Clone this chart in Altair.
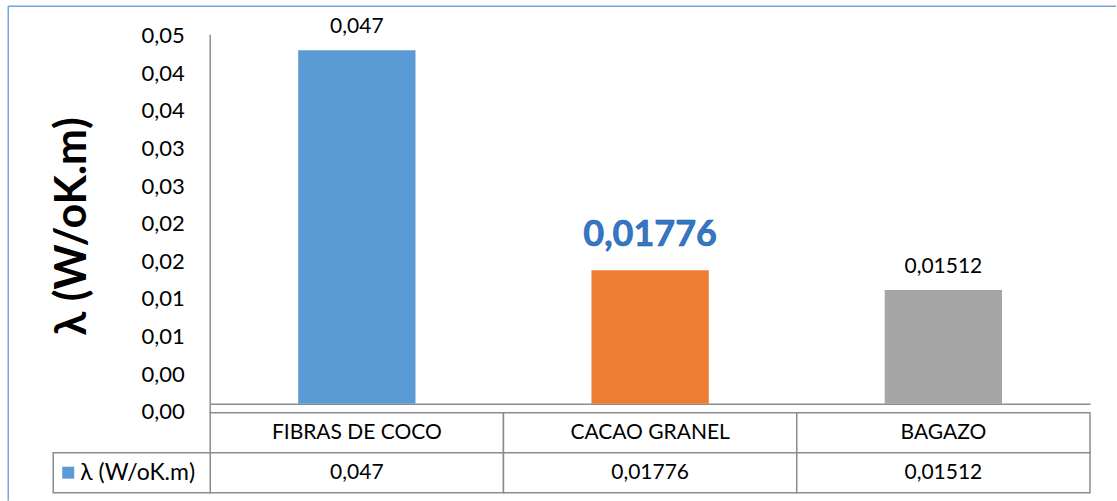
import altair as alt
import pandas as pd

# ---- data ----
categories = ["FIBRAS DE COCO", "CACAO GRANEL", "BAGAZO"]
values = [0.047, 0.01776, 0.01512]
value_labels = ["0,047", "0,01776", "0,01512"]
highlight = [False, True, False]
bar_colors = ["#5b9bd5", "#ed7d31", "#a5a5a5"]
series_name = "λ (W/oK.m)"
y_ticks = [0.0, 0.005, 0.01, 0.015, 0.02, 0.025, 0.03, 0.035, 0.04, 0.045, 0.05]
y_tick_labels = ["0,00", "0,00", "0,01", "0,01", "0,02", "0,02",
                 "0,03", "0,03", "0,04", "0,04", "0,05"]

FONT = "Lato"
GRID = "#8c8c8c"
FRAME = "#74a5dc"

df = pd.DataFrame({"cat": categories, "value": values,
                   "label": value_labels, "hl": highlight})

label_js = "[" + ",".join("'" + s + "'" for s in y_tick_labels) + "]"
label_expr = label_js + "[round(datum.value / 0.005)]"

x_top = alt.X("cat:N", sort=categories,
              scale=alt.Scale(domain=categories, paddingInner=0.6, paddingOuter=0.3),
              axis=alt.Axis(labels=False, ticks=False, title=None, domain=True,
                            domainColor=GRID, domainWidth=1.5, grid=False))
y_top = alt.Y("value:Q",
              scale=alt.Scale(domain=[0, 0.05], nice=False, zero=True),
              axis=alt.Axis(values=y_ticks, labelExpr=label_expr, ticks=False,
                            grid=False, domain=False, labelOffset=8, labelPadding=26,
                            labelFontSize=22, labelFont=FONT, labelColor="#000000",
                            labelOverlap=False,
                            title=series_name, titleFontSize=43, titleFont=FONT,
                            titleFontWeight="bold", titleColor="#000000",
                            titleAngle=-90, titleX=-138, titleY=198,
                            titleAlign="center", titleBaseline="middle"))

base = alt.Chart(df)
bars = base.mark_bar().encode(
    x=x_top, y=y_top,
    color=alt.Color("cat:N", scale=alt.Scale(domain=categories, range=bar_colors),
                    legend=None),
)
labels = base.transform_filter("!datum.hl").mark_text(
    dy=-17, baseline="alphabetic", fontSize=21, font=FONT, color="#000000"
).encode(x=x_top, y=y_top, text="label:N")
big_label = base.transform_filter("datum.hl").mark_text(
    dy=-24, baseline="alphabetic", fontSize=36, font=FONT, fontWeight="bold",
    color="#3477c4", stroke="#1f5ea8", strokeWidth=0.6
).encode(x=x_top, y=y_top, text="label:N")

one = pd.DataFrame({"k": [0]})
y_axis_line = alt.Chart(one).mark_rule(color=GRID, strokeWidth=1.5).encode(
    x=alt.value(0), y=alt.value(7), y2=alt.value(385))
frame_top = alt.Chart(one).mark_rule(color=FRAME, strokeWidth=1.5).encode(
    x=alt.value(-202), x2=alt.value(906), y=alt.value(-21.5))
frame_left = alt.Chart(one).mark_rule(color=FRAME, strokeWidth=1.5).encode(
    x=alt.value(-202), y=alt.value(-21.5), y2=alt.value(473))

top = alt.layer(frame_top, frame_left, bars, labels, big_label, y_axis_line).properties(
    width=880, height=376)

# ---- data table ----
rows = []
for c, lab in zip(categories, value_labels):
    rows.append({"row": "cat", "cat": c, "txt": c})
    rows.append({"row": "val", "cat": c, "txt": lab})
tdf = pd.DataFrame(rows)

x_tab = alt.X("cat:N", sort=categories,
              scale=alt.Scale(domain=categories, paddingInner=0, paddingOuter=0),
              axis=None)
y_tab = alt.Y("row:N", scale=alt.Scale(domain=["cat", "val"], paddingInner=0,
                                       paddingOuter=0), axis=None)

cells = alt.Chart(tdf).mark_rect(fill="white", stroke=GRID, strokeWidth=1.5).encode(
    x=x_tab, y=y_tab)
cell_text = alt.Chart(tdf).mark_text(fontSize=21, font=FONT, color="#000000").encode(
    x=x_tab, y=y_tab, text="txt:N")

ldf = pd.DataFrame({"row": ["val"], "name": [series_name]})
leg_cell = alt.Chart(ldf).mark_rect(fill="white", stroke=GRID, strokeWidth=1.5).encode(
    x=alt.value(-157), x2=alt.value(0), y=y_tab)
leg_sym = alt.Chart(ldf).mark_square(size=144, color=bar_colors[0], opacity=1).encode(
    x=alt.value(-142), y=y_tab)
leg_text = alt.Chart(ldf).mark_text(align="left", fontSize=23, font=FONT,
                                     color="#000000").encode(
    x=alt.value(-130), y=y_tab, text="name:N")

table = alt.layer(cells, cell_text, leg_cell, leg_sym, leg_text).properties(
    width=880, height=80)

chart = alt.vconcat(top, table, spacing=9, bounds="flush").properties(
    padding={"left": 7.25, "top": 4.75, "right": 0, "bottom": 0},
    background="white",
).configure(view=alt.ViewConfig(stroke="transparent", strokeWidth=0))

chart.save("out.html", embed_options={"renderer": "svg", "actions": False})
